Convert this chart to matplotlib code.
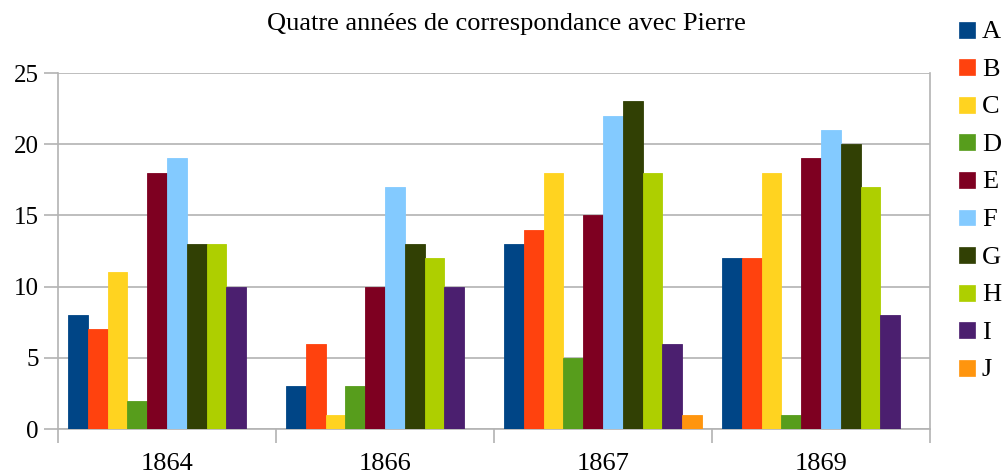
import matplotlib
matplotlib.use("Agg")
import matplotlib.pyplot as plt
import numpy as np
from matplotlib.patches import Rectangle

plt.rcParams['font.family'] = ['Liberation Serif', 'DejaVu Serif']

years = ["1864", "1866", "1867", "1869"]
series_names = ["A", "B", "C", "D", "E", "F", "G", "H", "I", "J"]
A = [8, 3, 13, 12]
B = [7, 6, 14, 12]
C = [11, 1, 18, 18]
D = [2, 3, 5, 1]
E = [18, 10, 15, 19]
F = [19, 17, 22, 21]
G = [13, 13, 23, 20]
H = [13, 12, 18, 17]
I = [10, 10, 6, 8]
J = [0, 0, 1, 0]
values = [A, B, C, D, E, F, G, H, I, J]
colors = ["#004586", "#ff420e", "#ffd320", "#579d1c", "#7e0021",
          "#83caff", "#314004", "#aecf00", "#4b1f6f", "#ff950e"]

W, Hpx = 1003, 475
fig = plt.figure(figsize=(W/100, Hpx/100), dpi=100)
ax = fig.add_axes([58/W, 1-429/Hpx, (930-58)/W, (429-73)/Hpx])

n = len(series_names)
w = 1.0 / (n + 1)
x = np.arange(len(years))
for i, (vals, c) in enumerate(zip(values, colors)):
    ax.bar(x - 0.5 + w/2 + w*(i + 0.5), vals, width=w, color=c,
           edgecolor=c, linewidth=0.6, zorder=3, label=series_names[i])

ax.set_xlim(-0.5, len(years) - 0.5)
ax.set_ylim(0, 25)
ax.set_yticks(np.arange(0, 26, 5))
ax.yaxis.grid(True, color="#b3b3b3", linewidth=1.2, zorder=0)
ax.set_xticks(x)
ax.set_xticklabels(years, fontsize=19)
ax.set_xticks(np.arange(-0.5, len(years)), minor=True)
ax.tick_params(axis='x', which='major', length=0, pad=17)
ax.tick_params(axis='x', which='minor', length=10, color="#b3b3b3", width=1.2)
ax.tick_params(axis='y', length=10, color="#b3b3b3", width=1.2, labelsize=18, pad=4)
for s in ["left", "right", "bottom"]:
    ax.spines[s].set_color("#b3b3b3")
    ax.spines[s].set_linewidth(1.2)
ax.spines["top"].set_visible(False)

fig.text(506/W, 1-24/Hpx, "Quatre années de correspondance avec Pierre",
         ha="center", va="center", fontsize=19)

# legend drawn manually at the reference positions
sq = 16
for k, (s, c) in enumerate(zip(series_names, colors)):
    cy = 29.5 + 37.6 * k
    fig.add_artist(Rectangle((959/W, 1-(cy+sq/2)/Hpx), sq/W, sq/Hpx,
                             transform=fig.transFigure, facecolor=c,
                             edgecolor=c, linewidth=0.5))
    fig.text(982/W, 1-cy/Hpx, s, ha="left", va="center_baseline", fontsize=19)

fig.savefig("out.png", dpi=100)
